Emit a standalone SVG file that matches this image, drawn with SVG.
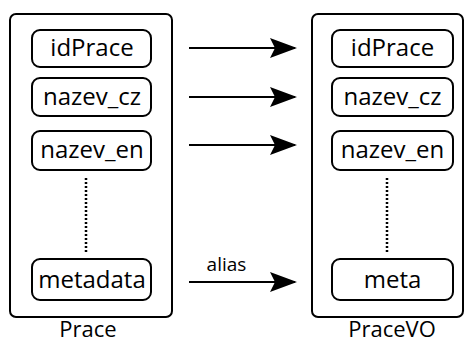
<svg xmlns="http://www.w3.org/2000/svg" width="467" height="343" viewBox="0 0 467 343">
  <defs>
    <style>
      .outer { fill: #fff; stroke: #000; stroke-width: 2; }
      .field { fill: #fff; stroke: #000; stroke-width: 2; }
      .label { font-family: "Open Sans", "DejaVu Sans", sans-serif; font-size: 24px; fill: #000; text-anchor: middle; }
      .caption { font-size: 22px; }
      .small { font-size: 19px; }
      .dots { stroke: #000; stroke-width: 2.5; stroke-dasharray: 2 2; fill: none; }
      .link { stroke: #000; stroke-width: 2; fill: none; marker-end: url(#head); }
    </style>
    <marker id="head" viewBox="0 0 27 20" refX="25" refY="10" markerWidth="27" markerHeight="20" markerUnits="userSpaceOnUse" orient="auto">
      <path d="M0,0 L27,10 L0,20 L5,10 Z" fill="#000"/>
    </marker>
  </defs>

  <!-- source class -->
  <g id="prace">
    <rect class="outer" x="10" y="14" width="162" height="303" rx="6"/>
    <text class="label caption" x="88" y="337">Prace</text>
  </g>
  <g id="prace-idPrace">
    <rect class="field" x="32" y="30" width="119" height="37" rx="8"/>
    <text class="label" x="92" y="56.3">idPrace</text>
  </g>
  <g id="prace-nazev_cz">
    <rect class="field" x="32" y="78" width="119" height="38" rx="8"/>
    <text class="label" x="92" y="105">nazev_cz</text>
  </g>
  <g id="prace-nazev_en">
    <rect class="field" x="32" y="131" width="119" height="39" rx="8"/>
    <text class="label" x="92" y="158.3">nazev_en</text>
  </g>
  <g id="prace-metadata">
    <rect class="field" x="32" y="259" width="119" height="41" rx="8"/>
    <text class="label" x="92" y="287.5">metadata</text>
  </g>

  <!-- target class -->
  <g id="pracevo">
    <rect class="outer" x="312" y="14" width="151" height="303" rx="6"/>
    <text class="label caption" x="392" y="337">PraceVO</text>
  </g>
  <g id="pracevo-idPrace">
    <rect class="field" x="332" y="30" width="121" height="37" rx="8"/>
    <text class="label" x="392.5" y="56.3">idPrace</text>
  </g>
  <g id="pracevo-nazev_cz">
    <rect class="field" x="332" y="78" width="121" height="38" rx="8"/>
    <text class="label" x="392.5" y="105">nazev_cz</text>
  </g>
  <g id="pracevo-nazev_en">
    <rect class="field" x="332" y="131" width="121" height="39" rx="8"/>
    <text class="label" x="392.5" y="158.3">nazev_en</text>
  </g>
  <g id="pracevo-meta">
    <rect class="field" x="332" y="259" width="121" height="41" rx="8"/>
    <text class="label" x="392.5" y="287.5">meta</text>
  </g>

  <!-- connectors -->
  <g id="connectors">
    <line class="dots" x1="86" y1="178" x2="86" y2="253"/>
    <line class="dots" x1="387" y1="178" x2="387" y2="253"/>
    <line class="link" x1="189" y1="48" x2="295" y2="48"/>
    <line class="link" x1="189" y1="97" x2="295" y2="97"/>
    <line class="link" x1="189" y1="145" x2="295" y2="145"/>
    <line class="link" x1="189" y1="282" x2="295" y2="282"/>
    <text class="label small" x="226.5" y="270.5">alias</text>
  </g>
</svg>
